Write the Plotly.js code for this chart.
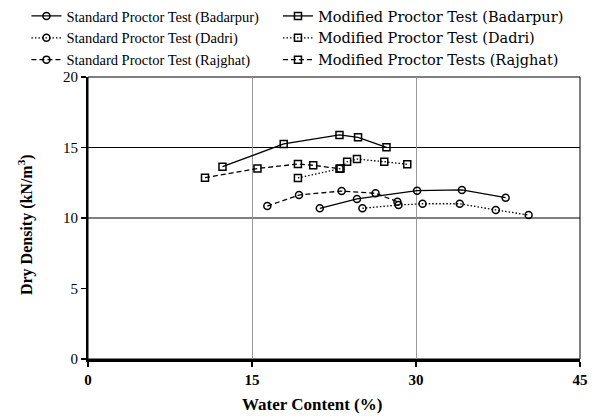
<!DOCTYPE html>
<html>
<head>
<meta charset="utf-8">
<script src="https://cdn.plot.ly/plotly-3.0.1.min.js"></script>
<style>
html,body{margin:0;padding:0;background:#fff;}
#chart{width:615px;height:419px;}
</style>
</head>
<body>
<div id="chart"></div>
<script>
// Data
const seriesNames = [
  "Standard Proctor Test (Badarpur)",
  "Modified Proctor Test (Badarpur)",
  "Standard Proctor Test (Dadri)",
  "Modified Proctor Test (Dadri)",
  "Standard Proctor Test (Rajghat)",
  "Modified Proctor Tests (Rajghat)"
];
const stdBadarpurX = [21.2, 24.6, 30.1, 34.2, 38.2];
const stdBadarpurY = [10.69, 11.35, 11.94, 11.99, 11.44];
const modBadarpurX = [12.3, 17.9, 23.0, 24.7, 27.3];
const modBadarpurY = [13.64, 15.25, 15.89, 15.72, 15.01];
const stdDadriX = [25.1, 28.4, 30.6, 34.0, 37.3, 40.3];
const stdDadriY = [10.69, 10.92, 11.01, 11.01, 10.57, 10.21];
const modDadriX = [19.2, 23.1, 23.7, 24.6, 27.1, 29.2];
const modDadriY = [12.84, 13.51, 13.99, 14.18, 13.99, 13.81];
const stdRajghatX = [16.4, 19.3, 23.2, 26.3, 28.3];
const stdRajghatY = [10.85, 11.63, 11.91, 11.75, 11.16];
const modRajghatX = [10.7, 15.5, 19.2, 20.6, 23.0];
const modRajghatY = [12.86, 13.51, 13.83, 13.74, 13.50];
const xTicks = [0, 15, 30, 45];
const yTicks = [0, 5, 10, 15, 20];
const yGridValues = [10, 15];
const xTitle = "Water Content (%)";
const yTitle = "Dry Density (kN/m<sup>3</sup>)";

const xs = [stdBadarpurX, modBadarpurX, stdDadriX, modDadriX, stdRajghatX, modRajghatX];
const ys = [stdBadarpurY, modBadarpurY, stdDadriY, modDadriY, stdRajghatY, modRajghatY];
const dashes = ["solid", "solid", "1.5px,2px", "1.5px,2px", "5px,3px", "5px,3px"];
const symbols = ["circle-open", "square-open", "circle-open", "square-open", "circle-open", "square-open"];

const traces = seriesNames.map((name, i) => ({
  type: "scatter",
  mode: "lines+markers",
  name: name,
  legend: i % 2 === 0 ? "legend" : "legend2",
  x: xs[i],
  y: ys[i],
  line: {color: "#000", width: 1.3, dash: dashes[i]},
  marker: {symbol: symbols[i], size: 7, color: "#000", line: {color: "#000", width: 1.5}}
}));

const shapes = yGridValues.map(v => ({
  type: "line", xref: "paper", yref: "y", x0: 0, x1: 1, y0: v, y1: v,
  line: {color: "#000", width: 1}, layer: "below"
}));
shapes.push({type: "rect", xref: "paper", yref: "paper", x0: 0, x1: 1, y0: 0, y1: 1,
  line: {color: "#000", width: 1}, layer: "below"});

const legendBase = {
  orientation: "v", xref: "container", yref: "container",
  y: 1.035, xanchor: "left", yanchor: "top", tracegroupgap: 0,
  bgcolor: "rgba(0,0,0,0)", borderwidth: 0
};

const layout = {
  width: 615, height: 419,
  margin: {l: 88, r: 35, t: 77, b: 60, autoexpand: false},
  paper_bgcolor: "#fff", plot_bgcolor: "#fff",
  font: {family: "Liberation Serif, Times New Roman, serif", color: "#000", size: 14},
  showlegend: true,
  legend: Object.assign({}, legendBase, {x: 0.043,
    font: {family: "Liberation Serif, serif", size: 14.5, color: "#000"}}),
  legend2: Object.assign({}, legendBase, {x: 0.452,
    font: {family: "DejaVu Serif, serif", size: 14.5, color: "#000"}}),
  xaxis: {
    range: [0, 45], tickvals: xTicks, ticktext: xTicks.map(String),
    showgrid: true, gridcolor: "#999", gridwidth: 1,
    zeroline: false, showline: true, linecolor: "#000", linewidth: 2.5,
    ticks: "outside", ticklen: 5, tickwidth: 2, tickcolor: "#000",
    tickfont: {family: "Liberation Serif, serif", size: 15, color: "#000", weight: "bold"}
  },
  yaxis: {
    range: [0, 20], tickvals: yTicks, ticktext: yTicks.map(String),
    showgrid: false, zeroline: false, showline: true, linecolor: "#000", linewidth: 2,
    ticks: "outside", ticklen: 5, tickwidth: 1.5, tickcolor: "#000",
    tickfont: {family: "Liberation Serif, serif", size: 15, color: "#000"}
  },
  annotations: [{
    text: "<b>" + yTitle + "</b>", xref: "paper", yref: "paper",
    x: -0.128, y: 0.475, xanchor: "center", yanchor: "middle", textangle: -90,
    showarrow: false, font: {family: "Liberation Serif, serif", size: 16, color: "#000"}
  }, {
    text: "<b>" + xTitle + "</b>", xref: "paper", yref: "paper",
    x: 0.455, y: -0.163, xanchor: "center", yanchor: "middle",
    showarrow: false, font: {family: "Liberation Serif, serif", size: 17, color: "#000"}
  }],
  shapes: shapes
};

Plotly.newPlot("chart", traces, layout, {staticPlot: true, displayModeBar: false});
</script>
</body>
</html>
